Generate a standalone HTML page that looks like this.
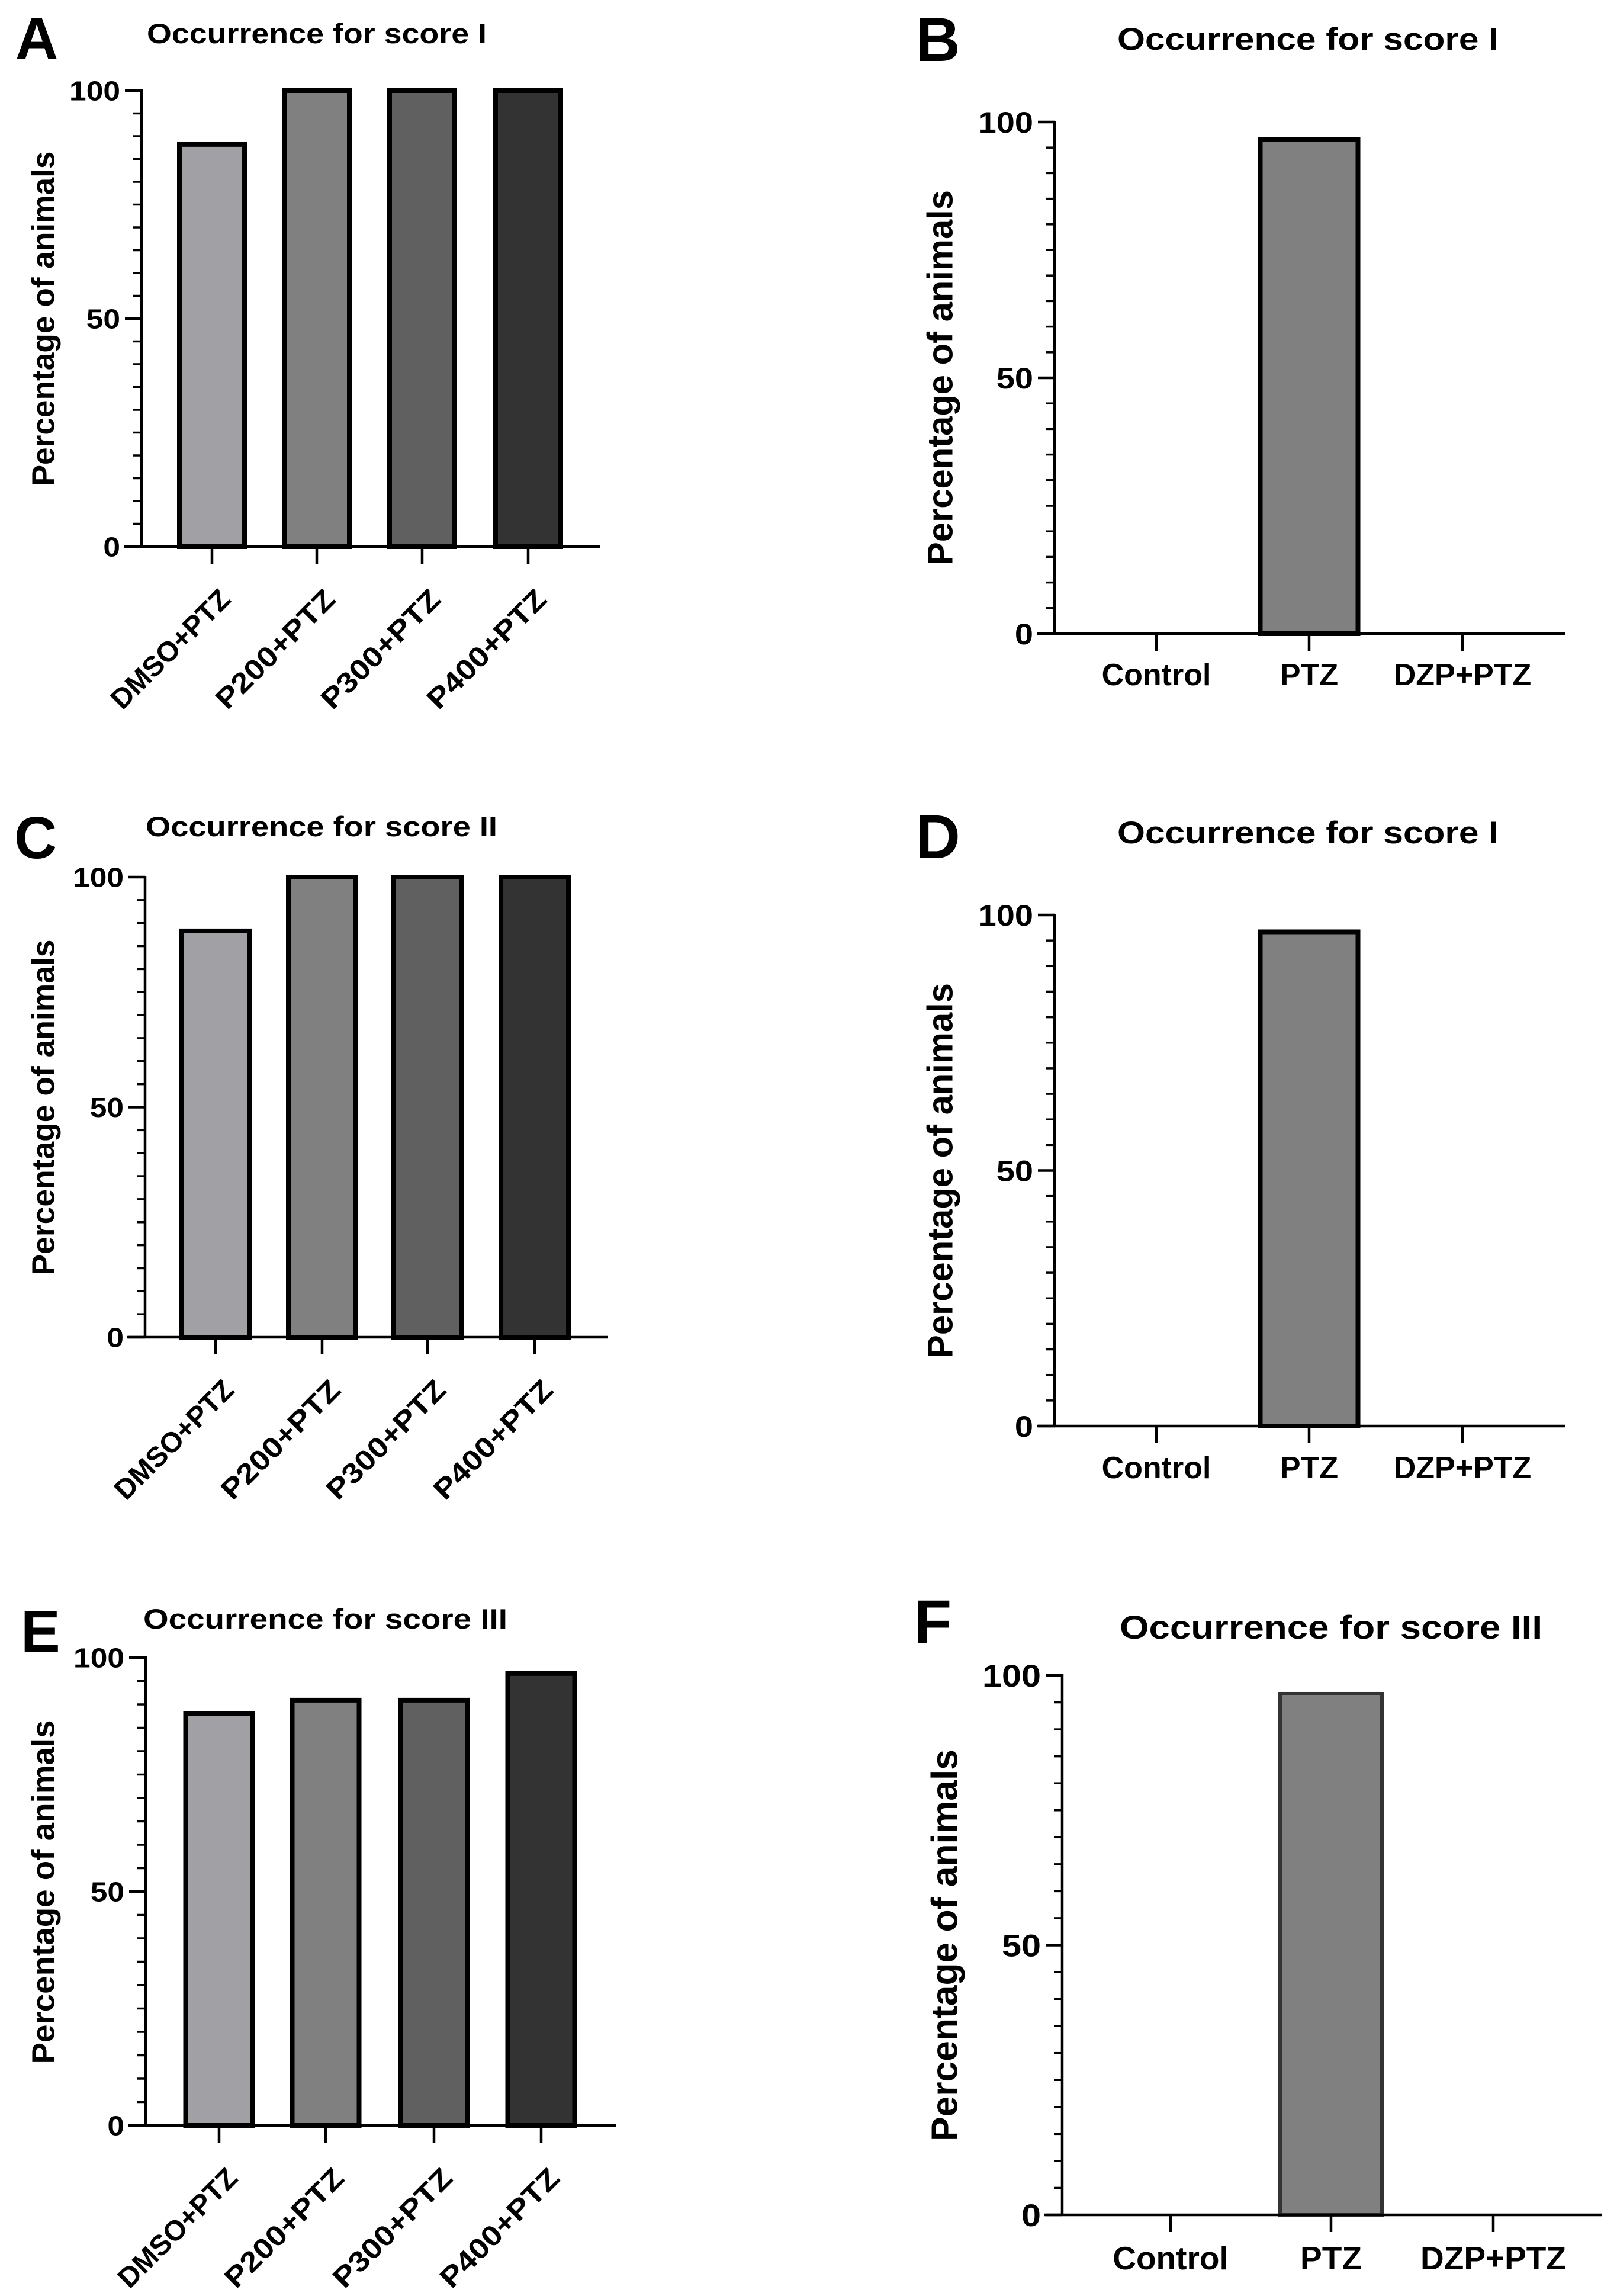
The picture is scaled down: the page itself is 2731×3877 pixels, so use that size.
<!DOCTYPE html>
<html><head><meta charset="utf-8"><style>
html,body{margin:0;padding:0;background:#fff}
svg{display:block}
text{font-family:"Liberation Sans",Arial,sans-serif;font-weight:bold;fill:#000}
</style></head><body>
<svg id="fig" width="2731" height="3877" viewBox="0 0 2731 3877" xmlns="http://www.w3.org/2000/svg"></svg>
<script>
// ---- data ----
const catsLeft = ["DMSO+PTZ","P200+PTZ","P300+PTZ","P400+PTZ"];
const catsRight = ["Control","PTZ","DZP+PTZ"];
const valsA = [88.2, 100, 100, 100];
const valsB = [0, 96.6, 0];
const valsC = [88.3, 100, 100, 100];
const valsD = [0, 96.7, 0];
const valsE = [88.1, 90.9, 90.9, 96.6];
const valsF = [0, 96.6, 0];
const majorTicks = [0, 50, 100];
const titleA = "Occurrence for score I";
const titleC = "Occurrence for score II";
const titleE = "Occurrence for score III";

const NS = "http://www.w3.org/2000/svg";
const svg = document.getElementById('fig');
function mk(tag, attrs, parent){
  const e = document.createElementNS(NS, tag);
  for (const k in attrs) e.setAttribute(k, attrs[k]);
  (parent||svg).appendChild(e);
  return e;
}
const leftColors = ["#a1a1a5","#808080","#606060","#333333"];
const rightColors = ["#808080","#808080","#808080"];

const panels = [
 {id:'a',letter:'A',lx:26,ly:99,lfs:100,title:titleA,tx:248,ty:73,tfs:47,tw:574,
  ax:239,y100:153,y0:923,xend:1014,ticks:[358,535,713,892],bw:110,vals:valsA,cats:catsLeft,rot:true,
  colors:leftColors,yt:{x:72,y:538,fs:54,len:565},tl:46,stroke:'#000',sw:8},
 {id:'b',letter:'B',lx:1546,ly:103,lfs:105,title:titleA,tx:1887,ty:84,tfs:53,tw:644,
  ax:1781,y100:206,y0:1070,xend:2644,ticks:[1953,2211,2470],bw:165,vals:valsB,cats:catsRight,rot:false,
  colors:rightColors,yt:{x:1587,y:638,fs:60,len:634},tl:50,stroke:'#000',sw:8,xlb:1157},
 {id:'c',letter:'C',lx:24,ly:1449,lfs:100,title:titleC,tx:246,ty:1412,tfs:47,tw:594,
  ax:245,y100:1481,y0:2258,xend:1027,ticks:[364,544,722,903],bw:114,vals:valsC,cats:catsLeft,rot:true,
  colors:leftColors,yt:{x:72,y:1870,fs:54,len:567},tl:46,stroke:'#000',sw:8},
 {id:'d',letter:'D',lx:1546,ly:1449,lfs:105,title:titleA,tx:1887,ty:1424,tfs:53,tw:644,
  ax:1781,y100:1545,y0:2408,xend:2644,ticks:[1953,2211,2470],bw:165,vals:valsD,cats:catsRight,rot:false,
  colors:rightColors,yt:{x:1587,y:1977,fs:60,len:634},tl:50,stroke:'#000',sw:8,xlb:2496},
 {id:'e',letter:'E',lx:35,ly:2789,lfs:100,title:titleE,tx:242,ty:2750,tfs:47,tw:615,
  ax:246,y100:2799,y0:3589,xend:1040,ticks:[370,550,733,914],bw:113,vals:valsE,cats:catsLeft,rot:true,
  colors:leftColors,yt:{x:72,y:3195,fs:54,len:581},tl:46,stroke:'#000',sw:8},
 {id:'f',letter:'F',lx:1543,ly:2775,lfs:105,title:titleE,tx:1891,ty:2767,tfs:56,tw:714,
  ax:1794,y100:2829,y0:3740,xend:2705,ticks:[1977,2248,2522],bw:172,vals:valsF,cats:catsRight,rot:false,
  colors:rightColors,yt:{x:1594,y:3285,fs:62,len:662},tl:53,stroke:'#333',sw:6,xlb:3832}
];

panels.forEach(p=>{
  const g = mk('g',{});
  
  
  const yScale = v => p.y0 - (p.y0 - p.y100) * v / 100;

  const L = mk('text',{x:p.lx,y:p.ly,'font-size':p.lfs},g);
  
  
  L.textContent = p.letter;

  const T = mk('text',{x:p.tx,y:p.ty,'font-size':p.tfs,textLength:p.tw,lengthAdjust:'spacingAndGlyphs'},g);
  
  
  T.textContent = p.title;

  p.vals.forEach((v,i)=>{
    if (v <= 0) return;
    const cx = p.ticks[i];
    const top = yScale(v);
    const r = mk('rect',{x:cx-p.bw/2,y:top,width:p.bw,height:p.y0-top,fill:p.colors[i],stroke:p.stroke,'stroke-width':p.sw},g);
    
    
  });

  const ya = mk('line',{x1:p.ax,y1:p.y100-2,x2:p.ax,y2:p.y0+2,stroke:'#000','stroke-width':4.5},g);
  
  
  for (let v=0; v<=100; v+=5){
    const isMajor = majorTicks.indexOf(v) >= 0;
    const len = isMajor ? 28 : 14;
    const y = yScale(v);
    const t = mk('line',{x1:p.ax-len,y1:y,x2:p.ax,y2:y,stroke:'#000','stroke-width':isMajor?4.5:3.5},g);
    
    
  }
  majorTicks.forEach(v=>{
    const t = mk('text',{x:p.ax-36,y:yScale(v)+p.tl*0.36,'font-size':p.tl,'text-anchor':'end'},g);
    
    
    t.setAttribute('transform','translate('+(p.ax-36)+',0) scale(1.12,1) translate('+(-(p.ax-36))+',0)');
    t.textContent = String(v);
  });
  const yt = mk('text',{x:0,y:0,'font-size':p.yt.fs,'text-anchor':'middle',textLength:p.yt.len,lengthAdjust:'spacingAndGlyphs',transform:'translate('+(p.yt.x+p.yt.fs*0.36)+','+p.yt.y+') rotate(-90)'},g);
  
  
  yt.textContent = 'Percentage of animals';

  const xa = mk('line',{x1:p.ax-30,y1:p.y0,x2:p.xend,y2:p.y0,stroke:'#000','stroke-width':4.5},g);
  
  
  p.cats.forEach((c,i)=>{
    const cx = p.ticks[i];
    const t = mk('line',{x1:cx,y1:p.y0,x2:cx,y2:p.y0+29,stroke:'#000','stroke-width':4.5},g);
    
    
    let lab;
    if (p.rot){
      lab = mk('text',{x:0,y:0,'font-size':48,'text-anchor':'end',textLength:262,lengthAdjust:'spacingAndGlyphs',transform:'translate('+(cx+34)+','+(p.y0+92)+') rotate(-45)'},g);
    } else {
      lab = mk('text',{x:cx,y:p.xlb,'font-size':p.tl+2,'text-anchor':'middle'},g);
    }
    
    
    lab.textContent = c;
  });
});
</script>
</body></html>
